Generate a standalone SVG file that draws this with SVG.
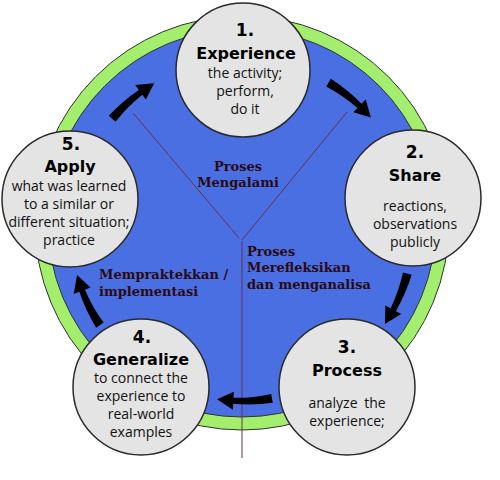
<svg xmlns="http://www.w3.org/2000/svg" width="500" height="480" viewBox="0 0 500 480">
<defs>
<style>
.node{fill:#e4e4e4;stroke:#2a2a2a;stroke-width:1.5}
.num{font-family:"DejaVu Sans",sans-serif;font-weight:bold;font-size:17px;fill:#000;text-anchor:middle}
.head{font-family:"DejaVu Sans",sans-serif;font-weight:bold;font-size:16px;fill:#000;text-anchor:middle}
.body{font-family:"Open Sans","Noto Sans",sans-serif;font-size:14px;fill:#111;text-anchor:middle}
.lab{font-family:"DejaVu Serif",serif;font-weight:bold;font-size:13px;fill:#2a0a10}
.div{stroke:#6a3048;stroke-width:1;fill:none}
.arr{fill:#000}
</style>
<path id="arrow" d="M 175.5 0 A 175 175 0 0 1 169.5 39.2 L 175.4 40.5 L 162.2 54.3 L 157.9 36.5 L 163.7 37.8 A 167 167 0 0 0 166.5 0 Z"/>
</defs>
<rect width="500" height="480" fill="#fff"/>
<g id="ring">
<circle cx="242" cy="223" r="207" fill="#a4ee6e" stroke="#333" stroke-width="1"/>
<circle cx="242" cy="223" r="194" fill="#4a6fe3" stroke="#333" stroke-width="1"/>
</g>
<g id="dividers">
<line class="div" x1="133" y1="113" x2="239" y2="238"/>
<line class="div" x1="347" y1="112" x2="242" y2="240"/>
<line class="div" x1="242" y1="241" x2="242" y2="458"/>
</g>
<g id="connectors" class="arr">
<use href="#arrow" transform="translate(242 230) rotate(-59.6)"/>
<use href="#arrow" transform="translate(242 230) rotate(14.8)"/>
<use href="#arrow" transform="translate(242 230) rotate(79.9)"/>
<use href="#arrow" transform="translate(242 230) rotate(146.2)"/>
<use href="#arrow" transform="translate(242 230) rotate(220.6)"/>
</g>
<g id="node1">
<circle class="node" cx="243" cy="70" r="67"/>
<text class="num" x="245" y="36">1.</text>
<text class="head" x="246" y="59">Experience</text>
<text class="body" x="245" y="78">the activity;</text>
<text class="body" x="245" y="96">perform,</text>
<text class="body" x="245" y="114">do it</text>
</g>
<g id="node2">
<circle class="node" cx="413" cy="198" r="68"/>
<text class="num" x="415" y="158">2.</text>
<text class="head" x="415" y="181">Share</text>
<text class="body" x="415" y="211">reactions,</text>
<text class="body" x="415" y="229">observations</text>
<text class="body" x="415" y="247">publicly</text>
</g>
<g id="node3">
<circle class="node" cx="347" cy="387" r="68"/>
<text class="num" x="347" y="353">3.</text>
<text class="head" x="347" y="376">Process</text>
<text class="body" x="347" y="408" word-spacing="3">analyze the</text>
<text class="body" x="347" y="426">experience;</text>
</g>
<g id="node4">
<circle class="node" cx="141" cy="387" r="68"/>
<text class="num" x="142" y="343">4.</text>
<text class="head" x="141" y="365">Generalize</text>
<text class="body" x="141" y="383">to connect the</text>
<text class="body" x="141" y="401">experience to</text>
<text class="body" x="141" y="419">real-world</text>
<text class="body" x="141" y="437">examples</text>
</g>
<g id="node5">
<circle class="node" cx="70" cy="199" r="68"/>
<text class="num" x="71" y="150">5.</text>
<text class="head" x="70" y="172">Apply</text>
<text class="body" x="69" y="191">what was learned</text>
<text class="body" x="69" y="209">to a similar or</text>
<text class="body" x="69" y="227">different situation;</text>
<text class="body" x="69" y="245">practice</text>
</g>
<g id="labels">
<text class="lab" x="238" y="171" text-anchor="middle">Proses</text>
<text class="lab" x="238" y="187" text-anchor="middle">Mengalami</text>
<text class="lab" x="247" y="256">Proses</text>
<text class="lab" x="247" y="272">Merefleksikan</text>
<text class="lab" x="247" y="289">dan menganalisa</text>
<text class="lab" x="99" y="279">Mempraktekkan /</text>
<text class="lab" x="99" y="296">implementasi</text>
</g>
</svg>
